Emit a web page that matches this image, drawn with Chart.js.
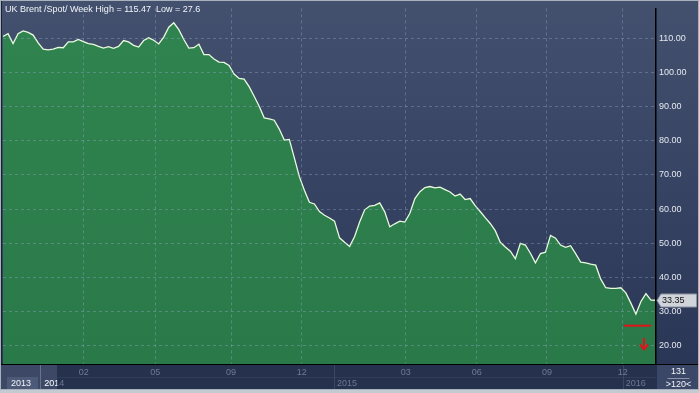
<!DOCTYPE html>
<html lang="en">
<head>
<meta charset="utf-8">
<title>UK Brent /Spot/ Week</title>
<script src="https://cdn.jsdelivr.net/npm/chart.js@4.4.1/dist/chart.umd.min.js"></script>
<style>
  html, body { margin: 0; padding: 0; background: #2a3454; }
  #wrap { width: 699px; height: 393px; }
</style>
</head>
<body>
<div id="wrap"><canvas id="chartCanvas" width="699" height="393"></canvas></div>
<script>
// weekly close, late 2013 .. Jan 2016 (index = week number)
const prices = [
  110.5, 111.3, 108.4, 111.3, 112.1, 111.7, 110.9, 108.6, 106.8, 106.6,
  106.8, 107.3, 107.2, 108.9, 108.9, 109.6, 109.0, 108.4, 108.2, 107.6,
  107.1, 107.5, 107.0, 107.6, 109.3, 108.9, 107.9, 107.4, 109.3, 110.1,
  109.4, 108.3, 110.3, 113.2, 114.5, 112.5, 109.6, 107.1, 107.2, 108.2,
  105.2, 105.2, 103.9, 103.0, 102.9, 102.0, 99.5, 98.2, 98.0, 95.8,
  93.0, 90.1, 86.7, 86.4, 86.0, 83.4, 80.2, 80.4, 75.0, 69.5,
  65.5, 62.0, 61.5, 59.3, 58.2, 57.4, 56.5, 51.6, 50.3, 49.1,
  52.0, 56.2, 59.8, 60.9, 61.1, 61.8, 59.2, 54.8, 55.7, 56.5,
  56.2, 58.8, 63.1, 65.1, 66.3, 66.6, 66.2, 66.4, 65.7, 65.0,
  63.8, 64.4, 62.8, 63.1, 61.0, 59.3, 57.5, 55.8, 53.7, 50.3,
  48.9, 47.7, 45.5, 50.0, 49.5, 47.1, 44.3, 47.0, 47.4, 52.3,
  51.5, 49.5, 48.8, 49.3, 47.0, 44.5, 44.3, 43.9, 43.6, 39.5,
  37.0, 36.8, 36.8, 37.0, 35.5, 32.5, 29.3, 33.0, 35.3, 33.4, 33.35
];

const monthTickPos = [16.1, 30.3, 45.4, 59.5, 80.2, 94.3, 108.3, 123.4];
const monthTickLabels = ['02', '05', '09', '12', '03', '06', '09', '12'];
const priceTicks = [20, 30, 40, 50, 60, 70, 80, 90, 100, 110];
const yearLabels = ['2014', '2015', '2016'];
const yearPos = [7.6, 65.9, 123.4];
const titleText = 'UK Brent /Spot/ Week High = 115.47  Low = 27.6';
const countText = '131';
const rangeText = '>120<';
const markLevel = 25.9;          // red level line
const markSpan = [123.6, 129.0];
const arrowAt = 127.7;           // red down arrow
const arrowSpan = [22.3, 19.0];

const FONT = '"Liberation Sans", Arial, sans-serif';

const chrome = {
  id: 'chrome',
  beforeDraw(chart) {
    const { ctx, chartArea: a, width: W, height: H } = chart;
    ctx.save();
    const g = ctx.createLinearGradient(0, 0, 0, a.bottom);
    g.addColorStop(0, '#43516f');
    g.addColorStop(1, '#2a3656');
    ctx.fillStyle = g;
    ctx.fillRect(0, 0, W, a.bottom);

    // bottom time band
    ctx.fillStyle = '#26314d';
    ctx.fillRect(0, a.bottom, W, H - a.bottom);
    ctx.fillStyle = '#3c4866';
    ctx.fillRect(0, a.bottom, 57, H - a.bottom);
    ctx.fillStyle = '#4c5a78';
    ctx.fillRect(7, 377, 31, 12);
    ctx.strokeStyle = '#66728e';
    ctx.lineWidth = 1;
    ctx.beginPath();
    ctx.moveTo(40.5, a.bottom); ctx.lineTo(40.5, 390);
    ctx.stroke();
    ctx.strokeStyle = '#303c5a';
    ctx.beginPath();
    ctx.moveTo(57, 377.5); ctx.lineTo(a.right, 377.5);
    ctx.stroke();
    const xs = chart.scales.x;
    ctx.strokeStyle = '#3a4664';
    yearPos.slice(1).forEach(p => {
      const x = Math.round(xs.getPixelForValue(p)) + 0.5;
      ctx.beginPath(); ctx.moveTo(x, a.bottom); ctx.lineTo(x, 390); ctx.stroke();
    });
    // right corner box
    ctx.fillStyle = '#3a4767';
    ctx.fillRect(a.right + 1, a.bottom, W - a.right - 1, 390 - a.bottom);
    ctx.fillStyle = '#c4cad2';
    ctx.fillRect(0, 390, W, H - 390);
    ctx.restore();
  },
  afterDraw(chart) {
    const { ctx, chartArea: a, width: W } = chart;
    const xs = chart.scales.x, ys = chart.scales.y;
    ctx.save();
    // frame
    ctx.strokeStyle = '#000';
    ctx.lineWidth = 1;
    ctx.beginPath(); ctx.moveTo(0, a.bottom + 0.5); ctx.lineTo(W, a.bottom + 0.5); ctx.stroke();
    ctx.strokeStyle = '#1a2236';
    ctx.beginPath(); ctx.moveTo(1.5, 1); ctx.lineTo(1.5, a.bottom); ctx.stroke();
    ctx.strokeStyle = '#a9b1bd';
    ctx.strokeRect(0.5, 0.5, W - 1, 389);

    // title
    ctx.font = '9px ' + FONT;
    ctx.fillStyle = '#f2f4f8';
    ctx.textBaseline = 'alphabetic';
    ctx.textAlign = 'left';
    ctx.fillText(titleText, 5, 11.5);

    // year labels
    ctx.textBaseline = 'middle';
    ctx.fillStyle = '#f2f4f8';
    ctx.fillText('2013', 11, 383.5);
    yearLabels.forEach((t, i) => {
      const x = xs.getPixelForValue(yearPos[i]) + 3;
      ctx.fillStyle = '#6c7894';
      ctx.fillText(t, x, 383.5);
      if (i === 0) {
        ctx.save();
        ctx.beginPath(); ctx.rect(0, 378, 57, 12); ctx.clip();
        ctx.fillStyle = '#f2f4f8';
        ctx.fillText(t, x, 383.5);
        ctx.restore();
      }
    });

    // corner box text
    const cx = (a.right + W) / 2 + 1;
    ctx.textAlign = 'center';
    ctx.fillStyle = '#f2f4f8';
    ctx.fillText(countText, cx, 372);
    ctx.fillText(rangeText, cx, 385);
    ctx.strokeStyle = '#8a93a8';
    ctx.beginPath(); ctx.moveTo(cx - 11, 378.5); ctx.lineTo(cx + 11, 378.5); ctx.stroke();

    // last price tag
    const last = prices[prices.length - 1];
    const y = Math.round(ys.getPixelForValue(last)) + 0.5;
    const x0 = a.right + 1;
    ctx.beginPath();
    ctx.moveTo(x0, y);
    ctx.lineTo(x0 + 4, y - 6.5);
    ctx.lineTo(W - 2.5, y - 6.5);
    ctx.lineTo(W - 2.5, y + 6.5);
    ctx.lineTo(x0 + 4, y + 6.5);
    ctx.closePath();
    ctx.fillStyle = '#d0d4db';
    ctx.fill();
    ctx.strokeStyle = '#8c94a2';
    ctx.stroke();
    ctx.textAlign = 'left';
    ctx.fillStyle = '#111';
    ctx.fillText(last.toFixed(2), x0 + 5, y + 0.5);

    // red level + arrow
    ctx.strokeStyle = '#e0141a';
    ctx.lineWidth = 2;
    const ly = ys.getPixelForValue(markLevel);
    ctx.beginPath();
    ctx.moveTo(xs.getPixelForValue(markSpan[0]), ly);
    ctx.lineTo(xs.getPixelForValue(markSpan[1]), ly);
    ctx.stroke();
    const ax = Math.round(xs.getPixelForValue(arrowAt));
    const ay0 = ys.getPixelForValue(arrowSpan[0]);
    const ay1 = ys.getPixelForValue(arrowSpan[1]);
    ctx.lineWidth = 2;
    ctx.beginPath(); ctx.moveTo(ax, ay0); ctx.lineTo(ax, ay1 - 1); ctx.stroke();
    ctx.beginPath();
    ctx.moveTo(ax - 4, ay1 - 5); ctx.lineTo(ax, ay1); ctx.lineTo(ax + 4, ay1 - 5);
    ctx.stroke();
    ctx.restore();
  }
};

const ctx = document.getElementById('chartCanvas');

const chart = new Chart(ctx, {
  type: 'line',
  data: {
    datasets: [{
      label: 'UK Brent',
      data: prices.map((v, i) => ({ x: i, y: v })),
      borderColor: '#e8fbdc',
      borderWidth: 1.3,
      pointRadius: 0,
      tension: 0,
      fill: 'start',
      backgroundColor: function (c) {
        const a = c.chart.chartArea;
        if (!a) return '#2e7f4e';
        const g = c.chart.ctx.createLinearGradient(0, a.top, 0, a.bottom);
        g.addColorStop(0, '#30844f');
        g.addColorStop(1, '#2a7a49');
        return g;
      }
    }]
  },
  options: {
    responsive: false,
    animation: false,
    events: [],
    layout: { padding: { left: 3, top: 2, right: 0, bottom: 0 } },
    plugins: { legend: { display: false }, tooltip: { enabled: false }, title: { display: false } },
    scales: {
      x: {
        type: 'linear',
        min: 0,
        max: prices.length - 1,
        afterBuildTicks: s => { s.ticks = monthTickPos.map(v => ({ value: v })); },
        afterFit: s => { s.height = 29; },
        ticks: {
          autoSkip: false,
          maxRotation: 0,
          padding: 3,
          color: '#6f7b97',
          font: { family: FONT, size: 9 },
          callback: (v, i) => monthTickLabels[i]
        },
        grid: { color: 'rgba(150,170,210,0.38)', drawTicks: false, z: 1 },
        border: { color: '#000', width: 1, dash: [3, 3], z: 2 }
      },
      y: {
        position: 'right',
        min: 14.7,
        max: 118.7,
        afterBuildTicks: s => { s.ticks = priceTicks.map(v => ({ value: v })); },
        afterFit: s => { s.width = 43; },
        ticks: {
          padding: 3,
          color: '#e4e8f0',
          font: { family: FONT, size: 9 },
          callback: v => v.toFixed(2)
        },
        grid: { color: 'rgba(150,170,210,0.38)', drawTicks: false, z: 1 },
        border: { color: '#000', width: 1.5, dash: [3, 3], z: 2 }
      }
    }
  },
  plugins: [chrome]
});
</script>
</body>
</html>
